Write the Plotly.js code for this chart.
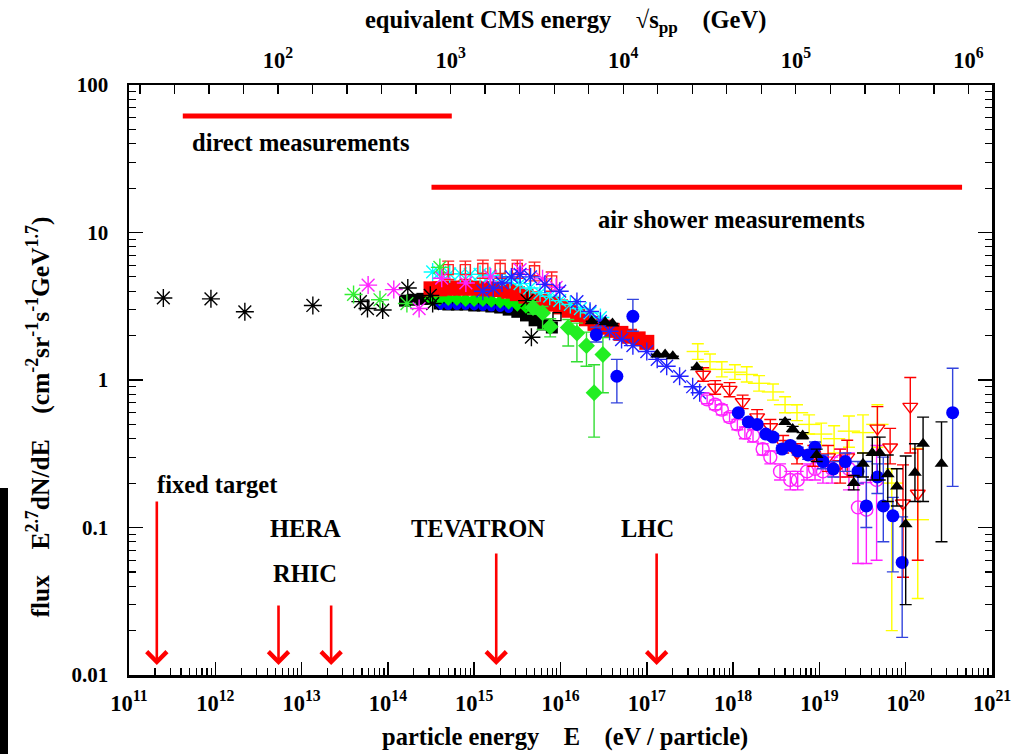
<!DOCTYPE html>
<html>
<head>
<meta charset="utf-8">
<script src="https://cdn.plot.ly/plotly-3.0.1.min.js"></script>
<style>html,body{margin:0;padding:0;background:#fff;}#chart{width:1019px;height:754px;}</style>
</head>
<body>
<div id="chart"></div>
<script>
// ---------------- data (energy E in eV/particle, flux E^2.7 dN/dE) ----------------
const xTickVals = [1e11,1e12,1e13,1e14,1e15,1e16,1e17,1e18,1e19,1e20,1e21];
const xTickText = ['10<sup>11</sup>','10<sup>12</sup>','10<sup>13</sup>','10<sup>14</sup>','10<sup>15</sup>','10<sup>16</sup>','10<sup>17</sup>','10<sup>18</sup>','10<sup>19</sup>','10<sup>20</sup>','10<sup>21</sup>'];
const yTickVals = [0.01,0.1,1,10,100];
const yTickText = ['0.01','0.1','1','10','100'];
const topTickExp = [2,3,4,5,6];
const topTickText = ['10<sup>2</sup>','10<sup>3</sup>','10<sup>4</sup>','10<sup>5</sup>','10<sup>6</sup>'];

const blkStarE = [2.5e11,8.9e11,2.2e12,1.35e13,4.8e13,5.8e13,8.7e13,1.7e14,3.1e14,3.3e14,4.1e15,4.6e15];
const blkStarF = [3.6,3.55,2.9,3.2,3.4,3.05,2.98,4.2,3.75,3.3,3.45,1.95];

const grnStarE = [4.0e13,8.1e13,1.66e14,4.0e14];
const grnStarF = [3.8,3.5,3.3,5.8];

const magStarE = [5.9e13,1.17e14,2.3e14,4.2e14,8.0e14,1.55e15,3.4e15,6.2e15,8.9e15];
const magStarF = [4.4,4.1,3.05,4.9,4.55,5.0,5.6,4.85,4.25];

const cyanE = [3.3e14,4.0e14,5.2e14,6.9e14,9.0e14,1.17e15,1.52e15,2.0e15,2.6e15,3.4e15,4.4e15,5.8e15,7.5e15,9.8e15,1.3e16,1.7e16,2.2e16,2.9e16];
const cyanF = [5.4,5.35,5.25,5.25,5.2,5.2,5.1,5.0,4.8,4.5,4.2,3.9,3.7,3.45,3.25,3.05,2.85,2.65];

const redSqE = [3.16e14,3.98e14,5.01e14,6.31e14,7.94e14,1.0e15,1.26e15,1.58e15,2.0e15,2.51e15,3.16e15,3.98e15,5.01e15,6.31e15,7.94e15,1.0e16,1.26e16,1.58e16,2.0e16,2.51e16,3.16e16,3.98e16,5.01e16,6.31e16,7.94e16,1.0e17];
const redSqF = [4.15,4.15,4.2,4.2,4.2,4.2,4.15,4.15,4.1,4.0,3.85,3.7,3.55,3.4,3.27,3.13,2.97,2.78,2.6,2.42,2.28,2.17,2.07,1.98,1.9,1.8];

const grnBandE = [3.16e14,3.98e14,5.01e14,6.31e14,7.94e14,1.0e15,1.26e15,1.58e15,2.0e15,2.51e15,3.16e15,3.98e15];
const grnBandF = [3.55,3.55,3.55,3.55,3.5,3.5,3.5,3.45,3.4,3.35,3.25,3.15];

const grnDiaE = [4.8e15,6.2e15,7.6e15,1.23e16,1.55e16,2.0e16,2.45e16,3.1e16];
const grnDiaF = [3.1,2.85,2.3,2.27,2.08,1.71,0.82,1.49];
const grnDiaUp = [0.3,0.3,0.3,0.3,0.35,0.4,0.45,0.45];
const grnDiaLo = [0.3,0.65,0.34,0.57,0.75,0.47,0.41,0.67];

const bluBandE = [3.98e14,5.01e14,6.31e14,7.94e14,1.0e15,1.26e15,1.58e15,2.0e15,2.51e15];
const bluBandF = [3.2,3.2,3.2,3.2,3.18,3.15,3.12,3.1,3.05];

const blkSqE = [1.58e14,2.0e14,2.51e14,3.16e14,3.98e14,5.01e14,6.31e14,7.94e14,1.0e15,1.26e15,1.58e15,2.0e15,2.51e15,3.16e15,3.98e15,5.01e15,6.31e15,7.94e15];
const blkSqF = [3.45,3.5,3.55,3.55,3.3,3.25,3.25,3.25,3.2,3.2,3.15,3.1,3.0,2.9,2.74,2.54,2.38,2.27];

const blkOpenSqE = [5.4e13,9.1e15];
const blkOpenSqF = [3.27,2.69];

const redOpSqE = [5.0e14,7.9e14,1.26e15,2.0e15,3.16e15,5.0e15,7.9e15];
const redOpSqF = [5.6,5.6,5.7,5.7,5.7,5.5,4.7];
const redOpSqErr = [0.8,0.8,0.8,0.8,0.8,0.8,0.7];

const bluStarE = [1.26e15,1.66e15,2.1e15,2.7e15,3.4e15,4.5e15,6.6e15,9.8e15,1.55e16,2.2e16,2.9e16,3.7e16,5.1e16,6.9e16,1.0e17,1.32e17,1.7e17,2.4e17,3.4e17,4.1e17];
const bluStarF = [4.0,4.2,4.55,5.0,5.2,5.0,4.45,4.0,3.4,2.92,2.5,2.14,1.88,1.71,1.56,1.38,1.24,1.06,0.9,0.82];

const bluLowE = [2.6e16,4.5e16,6.9e16];
const bluLowF = [2.03,1.06,2.7];
const bluLowUp = [0.25,0.32,0.82];
const bluLowLo = [0.22,0.36,0.56];

const triE = [2.3e16,3.3e16,4.0e16,1.32e17,1.63e17,2.0e17,3.8e17,4.0e18,4.9e18,6.4e18,9.3e18,2.5e19,3.2e19,4.1e19,5.0e19,6.2e19,7.9e19,1.0e20,1.28e20,1.59e20,2.6e20];
const triF = [2.5,2.46,2.42,1.49,1.49,1.45,1.22,0.52,0.465,0.42,0.31,0.20,0.27,0.32,0.32,0.23,0.19,0.105,0.235,0.37,0.27];
const triUp = [0,0,0,0,0,0,0,0.02,0.02,0.02,0.03,0.025,0.05,0.09,0.09,0.08,0.06,0.2,0.135,0.19,0.25];
const triLo = [0,0,0,0,0,0,0,0.02,0.02,0.02,0.03,0.02,0.05,0.11,0.11,0.08,0.05,0.075,0.085,0.22,0.19];

const yelE = [3.9e17,5.4e17,7.4e17,1.05e18,1.44e18,2.0e18,2.9e18,4.0e18,5.5e18,7.6e18,1.05e19,1.48e19,2.2e19,3.2e19,4.7e19,6.9e19,1.38e20];
const yelF = [1.56,1.33,1.18,1.13,1.09,0.95,0.83,0.68,0.60,0.50,0.43,0.40,0.45,0.44,0.50,0.20,0.113];
const yelUp = [0.2,0.17,0.15,0.14,0.14,0.12,0.11,0.09,0.08,0.08,0.08,0.09,0.12,0.14,0.18,0.05,0.23];
const yelLo = [0.18,0.15,0.13,0.12,0.12,0.11,0.1,0.08,0.07,0.07,0.07,0.08,0.1,0.12,0.15,0.18,0.08];

const rTriE = [4.5e17,6.2e17,9.1e17,1.29e18,1.9e18,2.7e18,3.8e18,5.5e18,8.5e18,1.26e19,1.74e19,2.1e19,4.7e19,6.6e19,9.3e19,1.13e20,1.38e20];
const rTriF = [1.09,0.89,0.86,0.71,0.56,0.48,0.37,0.32,0.31,0.30,0.27,0.30,0.47,0.35,0.146,0.66,0.17];
const rTriUp = [0.12,0.1,0.1,0.08,0.07,0.06,0.05,0.05,0.05,0.06,0.07,0.09,0.19,0.12,0.12,0.38,0.17];
const rTriLo = [0.11,0.09,0.09,0.07,0.06,0.05,0.05,0.05,0.05,0.06,0.07,0.08,0.16,0.08,0.10,0.34,0.11];

const magCirE = [5.0e17,6.2e17,7.4e17,9.1e17,1.12e18,1.37e18,1.7e18,2.2e18,2.7e18,3.5e18,4.6e18,5.6e18,7.2e18,8.9e18,1.1e19,1.4e19,1.74e19,2.2e19,2.8e19,3.5e19,4.6e19];
const magCirF = [0.74,0.68,0.63,0.56,0.50,0.44,0.42,0.34,0.30,0.24,0.21,0.21,0.24,0.25,0.24,0.25,0.28,0.25,0.137,0.132,0.21];
const magCirUp = [0.05,0.05,0.05,0.04,0.04,0.04,0.04,0.03,0.03,0.03,0.03,0.03,0.03,0.04,0.04,0.05,0.06,0.07,0.06,0.07,0.15];
const magCirLo = [0.05,0.05,0.05,0.04,0.04,0.04,0.04,0.03,0.03,0.03,0.03,0.03,0.03,0.04,0.04,0.05,0.06,0.07,0.08,0.075,0.15];

const bluHiE = [1.15e18,1.5e18,1.9e18,2.4e18,2.9e18,3.7e18,4.6e18,5.6e18,7.4e18,8.9e18,1.1e19,1.45e19,2.0e19,2.8e19,3.5e19,4.7e19,5.5e19,7.1e19,9.1e19,3.5e20];
const bluHiF = [0.60,0.52,0.50,0.43,0.41,0.34,0.36,0.33,0.31,0.35,0.28,0.25,0.28,0.24,0.14,0.22,0.14,0.12,0.058,0.60];
const bluHiUp = [0.02,0.02,0.02,0.02,0.02,0.02,0.02,0.02,0.02,0.03,0.03,0.03,0.04,0.04,0.14,0.05,0.16,0.04,0.06,0.6];
const bluHiLo = [0.02,0.02,0.02,0.02,0.02,0.02,0.02,0.02,0.02,0.03,0.03,0.03,0.04,0.04,0.04,0.05,0.06,0.07,0.04,0.41];

// measurement ranges (E range, flux level of the bar)
const directRange = [4.2e11,5.5e14];
const directLevel = [61.6,61.6];
const showerRange = [3.2e14,4.5e20];
const showerLevel = [20.3,20.3];

// accelerator equivalent energies (eV)
const accelNames = ['fixed target','HERA','RHIC','TEVATRON','LHC'];
const accelE = [2.1e11,5.4e12,2.2e13,1.8e15,1.3e17];

// ---------------- traces ----------------
function pts(x, y, color, symbol, size, extra) {
  const open = /open/.test(symbol);
  const t = {
    type:'scatter', mode:'markers', x:x, y:y, hoverinfo:'skip',
    marker:{color:color, symbol:symbol, size:size,
            line:{color:color, width: open ? 1.4 : 0}}
  };
  return Object.assign(t, extra||{});
}
function err(up, lo, color) {
  return {type:'data', symmetric:false, array:up, arrayminus:lo, color:color, thickness:1.4, width:6};
}

const traces = [
  pts(blkSqE, blkSqF, '#000000', 'square', 12),
  pts(bluBandE, bluBandF, '#0000ff', 'circle', 9),
  pts(grnBandE, grnBandF, '#00ee00', 'diamond', 11),
  pts(redSqE, redSqF, '#ff0000', 'square', 15),
  pts(cyanE, cyanF, '#00ffff', 'asterisk-open', 15),
  pts(redOpSqE, redOpSqF, '#ff2020', 'square-open', 10, {error_y: err(redOpSqErr, redOpSqErr, '#ff2020')}),
  pts(blkStarE, blkStarF, '#000000', 'asterisk-open', 15),
  pts(blkOpenSqE, blkOpenSqF, '#000000', 'square-open', 8),
  pts(grnStarE, grnStarF, '#33ee33', 'asterisk-open', 15),
  pts(magStarE, magStarF, '#ff22ff', 'asterisk-open', 15),
  pts(bluStarE, bluStarF, '#2222ff', 'asterisk-open', 15),
  pts(grnDiaE, grnDiaF, '#22ee22', 'diamond', 13, {error_y: err(grnDiaUp, grnDiaLo, '#33dd33')}),
  pts(bluLowE, bluLowF, '#0000ff', 'circle', 13, {error_y: err(bluLowUp, bluLowLo, '#3344dd')}),
  pts(yelE, yelF, '#ffff00', 'line-ew-open', 16, {error_y: err(yelUp, yelLo, '#ffff00')}),
  pts(magCirE, magCirF, '#ff22ff', 'circle-open', 13, {error_y: err(magCirUp, magCirLo, '#ff22ff')}),
  pts(rTriE, rTriF, '#ff0000', 'triangle-down-open', 13, {error_y: err(rTriUp, rTriLo, '#ff0000')}),
  pts(bluHiE, bluHiF, '#0000ff', 'circle', 13, {error_y: err(bluHiUp, bluHiLo, '#3344dd')}),
  pts(triE, triF, '#000000', 'triangle-up', 12, {error_y: err(triUp, triLo, '#000000')}),
  {type:'scatter', mode:'lines', x:directRange, y:directLevel, line:{color:'#ff0000', width:5}, hoverinfo:'skip'},
  {type:'scatter', mode:'lines', x:showerRange, y:showerLevel, line:{color:'#ff0000', width:5}, hoverinfo:'skip'}
];

// ---------------- layout ----------------
const FONT = 'Liberation Serif, Times New Roman, serif';
const mp = 0.938; // GeV
const sqrtsLog = E => 0.5*Math.log10(2*mp*E/1e9);

const annotations = [];
// arrows
const arrowTipFlux = 0.0117;
const arrowLen = [165, 61, 61, 113, 113];
accelE.forEach((e,i) => {
  annotations.push({x:Math.log10(e), y:Math.log10(arrowTipFlux), xref:'x', yref:'y', text:'',
    showarrow:true, ax:0, ay:-arrowLen[i], arrowhead:4, arrowsize:1.5, arrowwidth:2.6, arrowcolor:'#ff0000'});
});
const lab = (text, xE, yF) => ({x:Math.log10(xE), y:Math.log10(yF), xref:'x', yref:'y', text:text,
  showarrow:false, xanchor:'center', yanchor:'middle', font:{family:FONT, size:24.5, color:'#000', weight:'bold'}});
annotations.push(lab('direct measurements', 9.8e12, 40.5));
annotations.push(lab('air shower measurements', 9.5e17, 12.3));
annotations.push(lab(accelNames[0], 1.07e12, 0.197));
annotations.push(lab(accelNames[1], 1.1e13, 0.099));
annotations.push(lab(accelNames[2], 1.1e13, 0.049));
annotations.push(lab(accelNames[3], 1.1e15, 0.099));
annotations.push(lab(accelNames[4], 1.02e17, 0.099));
// axis titles
const NB = '\u00A0\u00A0\u00A0\u00A0';
annotations.push({xref:'paper', yref:'paper', x:0.506, y:1.107, showarrow:false, xanchor:'center', yanchor:'middle',
  text:'equivalent CMS energy'+NB+'\u221As<sub>pp</sub>'+NB+'(GeV)', font:{family:FONT, size:24.5, weight:'bold', color:'#000'}});
annotations.push({xref:'paper', yref:'paper', x:0.505, y:-0.105, showarrow:false, xanchor:'center', yanchor:'middle',
  text:'particle energy'+NB+'E'+NB+'(eV / particle)', font:{family:FONT, size:24.5, weight:'bold', color:'#000'}});
annotations.push({xref:'paper', yref:'paper', x:-0.105, y:0.437, showarrow:false, xanchor:'center', yanchor:'middle', textangle:-90,
  text:'flux'+NB+'E<sup>2.7</sup>dN/dE'+NB+'(cm<sup>-2</sup>sr<sup>-1</sup>s<sup>-1</sup>GeV<sup>1.7</sup>)', font:{family:FONT, size:25.5, weight:'bold', color:'#000'}});

const tickFontY = {family:FONT, size:21, color:'#000', weight:'bold'};
const tickFontX = {family:FONT, size:22.5, color:'#000', weight:'bold'};

const layout = {
  width:1019, height:754,
  margin:{l:129, r:27, t:85, b:79, pad:0},
  paper_bgcolor:'#ffffff', plot_bgcolor:'#ffffff',
  showlegend:false,
  font:{family:FONT, size:20, color:'#000'},
  xaxis:{type:'log', range:[11,21], showgrid:false, zeroline:false,
    showline:true, linecolor:'#000', linewidth:2.5, mirror:true,
    tickmode:'array', tickvals:xTickVals, ticktext:xTickText,
    ticks:'inside', ticklen:13, tickwidth:1.5, tickcolor:'#000', tickfont:tickFontX, ticklabelstandoff:6,
    minor:{dtick:'D1', ticks:'inside', ticklen:7, tickwidth:1.2, tickcolor:'#000', showgrid:false}},
  xaxis2:{type:'linear', overlaying:'x', side:'top', anchor:'y',
    range:[sqrtsLog(1e11), sqrtsLog(1e21)], showgrid:false, zeroline:false, showline:false,
    tickmode:'array', tickvals:topTickExp, ticktext:topTickText,
    ticks:'inside', ticklen:9, tickwidth:1.3, tickcolor:'#000', tickfont:tickFontX, ticklabelstandoff:12,
    minor:{tick0:0, dtick:0.2, ticks:'inside', ticklen:9, tickwidth:1.3, tickcolor:'#000', showgrid:false}},
  yaxis:{type:'log', range:[-2,2], showgrid:false, zeroline:false,
    showline:true, linecolor:'#000', linewidth:2.5, mirror:'ticks',
    tickmode:'array', tickvals:yTickVals, ticktext:yTickText,
    ticks:'inside', ticklen:14, tickwidth:1.5, tickcolor:'#000', tickfont:tickFontY, ticklabelstandoff:14,
    minor:{dtick:'D1', ticks:'inside', ticklen:7, tickwidth:1.2, tickcolor:'#000', showgrid:false}},
  annotations:annotations,
  shapes:[{type:'rect', xref:'paper', yref:'paper', x0:-129/863, x1:-121/863, y0:-79/590, y1:187/590,
    fillcolor:'#000', line:{width:0}, layer:'above'}]
};

// keep the top axis alive with an invisible trace on it
traces.push({type:'scatter', mode:'markers', x:[sqrtsLog(accelE[3])], y:[1], xaxis:'x2', yaxis:'y',
  marker:{opacity:0}, hoverinfo:'skip'});

Plotly.newPlot('chart', traces, layout, {displayModeBar:false, staticPlot:true});
</script>
</body>
</html>
